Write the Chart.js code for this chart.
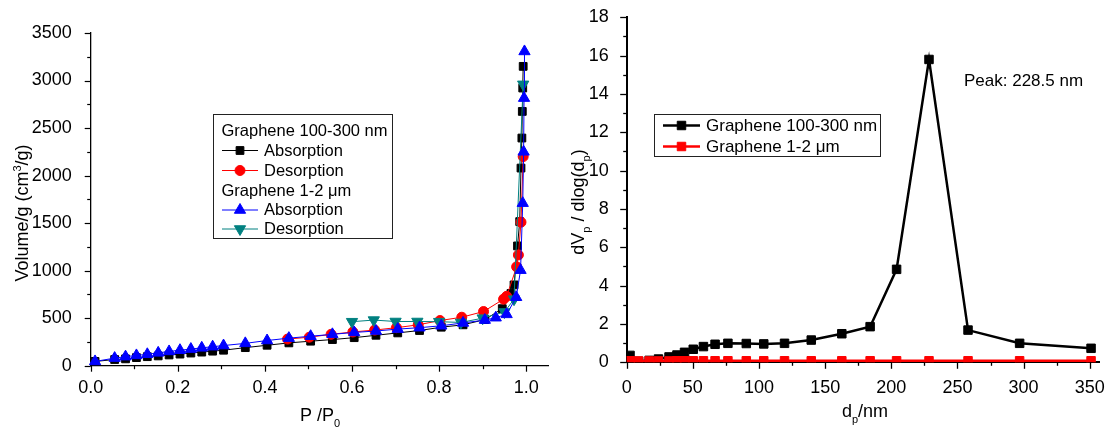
<!DOCTYPE html>
<html><head><meta charset="utf-8">
<script src="https://cdn.jsdelivr.net/npm/chart.js@4/dist/chart.umd.min.js"></script>
<style>
html,body{margin:0;padding:0;background:#fff;}
#wrap{position:relative;width:1106px;height:430px;overflow:hidden;}
canvas{position:absolute;top:0;}
</style></head>
<body><div id="wrap">
<canvas id="c1" width="560" height="430" style="left:0"></canvas>
<canvas id="c2" width="546" height="430" style="left:560px"></canvas>
</div>
<script>
// ---------- Left chart data: N2 isotherms ----------
const abs100X = [0.01,0.055,0.08,0.105,0.13,0.155,0.18,0.205,0.23,0.255,0.28,0.305,0.355,0.405,0.455,0.505,0.555,0.605,0.655,0.705,0.755,0.805,0.855,0.905,0.945,0.965,0.972,0.980,0.985,0.988,0.990,0.991,0.992,0.993];
const abs100Y = [45,65,72,85,95,103,113,122,133,143,153,163,190,215,240,258,275,295,320,345,370,405,430,485,600,760,850,1260,1516,2079,2395,2675,2921,3149];
const des100X = [0.993,0.988,0.982,0.978,0.955,0.948,0.902,0.852,0.802,0.752,0.702,0.652,0.602,0.552,0.502,0.452];
const des100Y = [2200,1510,1165,1040,730,700,570,510,475,430,400,375,355,330,300,280];
const abs12X = [0.01,0.055,0.08,0.105,0.13,0.155,0.18,0.205,0.23,0.255,0.28,0.305,0.355,0.405,0.455,0.505,0.555,0.605,0.655,0.705,0.755,0.805,0.855,0.905,0.93,0.955,0.977,0.987,0.992,0.994,0.995,0.996];
const abs12Y = [45,80,95,108,120,135,150,163,175,188,200,212,235,265,290,310,330,350,365,385,400,420,450,480,505,540,720,1005,1710,2250,2815,3306];
const des12X = [0.993,0.972,0.95,0.9,0.85,0.8,0.75,0.7,0.65,0.6];
const des12Y = [2960,700,565,500,455,463,465,465,480,463];
const leftXTicks = [0,0.2,0.4,0.6,0.8,1.0];
const leftXTickLabels = ['0.0','0.2','0.4','0.6','0.8','1.0'];
const leftXMinor = [0.1,0.3,0.5,0.7,0.9];
const leftYTicks = [0,500,1000,1500,2000,2500,3000,3500];
const leftYMinor = [250,750,1250,1750,2250,2750,3250];

// ---------- Right chart data: pore size distribution ----------
const poreX = [2.5,9,17,24,32,38,43.7,50.3,58,66.8,76.5,90.4,103.6,119.3,139.5,162.6,184,204,228.5,258,297,351];
const pore100Y = [0.36,0.05,0.1,0.17,0.28,0.38,0.52,0.68,0.82,0.94,0.99,0.98,0.96,0.99,1.16,1.49,1.86,4.85,15.8,1.68,0.99,0.73];
const pore12Y = [0.08,0.07,0.07,0.07,0.07,0.08,0.08,0.08,0.08,0.08,0.08,0.08,0.08,0.08,0.08,0.08,0.08,0.08,0.08,0.08,0.08,0.08];
const rightXTicks = [0,50,100,150,200,250,300,350];
const rightXTickLabels = ['0','50','100','150','200','250','300','350'];
const rightXMinor = [25,75,125,175,225,275,325];
const rightYTicks = [0,2,4,6,8,10,12,14,16,18];
const rightYMinor = [1,3,5,7,9,11,13,15,17];

const FONT = "'Liberation Sans', Arial, Helvetica, sans-serif";
const zip = (xs, ys) => xs.map((x, i) => ({x, y: ys[i]}));

function marker(ctx, style, x, y, r, color, rot) {
  ctx.save();
  ctx.fillStyle = color; ctx.strokeStyle = color; ctx.lineWidth = 1;
  ctx.beginPath();
  if (style === 'rect') { const s = r * Math.SQRT1_2; ctx.rect(x - s, y - s, 2 * s, 2 * s); }
  else if (style === 'circle') { ctx.arc(x, y, r, 0, Math.PI * 2); }
  else if (style === 'triangle') {
    let a = (rot || 0) * Math.PI / 180;
    ctx.moveTo(x + Math.sin(a) * r, y - Math.cos(a) * r);
    a += 2 * Math.PI / 3; ctx.lineTo(x + Math.sin(a) * r, y - Math.cos(a) * r);
    a += 2 * Math.PI / 3; ctx.lineTo(x + Math.sin(a) * r, y - Math.cos(a) * r);
    ctx.closePath();
  }
  ctx.fill(); ctx.stroke();
  ctx.restore();
}

function rich(ctx, parts, cx, cy, rot, size) {
  ctx.save();
  ctx.translate(cx, cy); ctx.rotate(rot);
  ctx.fillStyle = '#000'; ctx.textBaseline = 'alphabetic'; ctx.textAlign = 'left';
  const subSize = Math.round(size * 0.6);
  let w = 0;
  parts.forEach(p => { ctx.font = (p.sub || p.sup ? subSize : size) + 'px ' + FONT; p.w = ctx.measureText(p.t).width; w += p.w; });
  let x = -w / 2; const base = size * 0.36;
  parts.forEach(p => {
    ctx.font = (p.sub || p.sup ? subSize : size) + 'px ' + FONT;
    const dy = p.sub ? size * 0.3 : (p.sup ? -size * 0.42 : 0);
    ctx.fillText(p.t, x, base + dy);
    x += p.w;
  });
  ctx.restore();
}

function ticksPlugin(cfg) {
  return {
    id: 'decor',
    afterDraw(chart) {
      const ctx = chart.ctx, ca = chart.chartArea, sx = chart.scales.x, sy = chart.scales.y;
      ctx.save();
      ctx.strokeStyle = '#000'; ctx.lineWidth = cfg.tickWidth;
      const draw = (vals, len, horiz) => vals.forEach(v => {
        ctx.beginPath();
        if (horiz) { const p = Math.round(sx.getPixelForValue(v)) + 0.5; ctx.moveTo(p, ca.bottom); ctx.lineTo(p, ca.bottom + len); }
        else { const p = Math.round(sy.getPixelForValue(v)) + 0.5; ctx.moveTo(ca.left, p); ctx.lineTo(ca.left - len, p); }
        ctx.stroke();
      });
      draw(cfg.xMajor, cfg.majorLen, true); draw(cfg.xMinor, cfg.minorLen, true);
      draw(cfg.yMajor, cfg.majorLen, false); draw(cfg.yMinor, cfg.minorLen, false);
      ctx.restore();
      cfg.extra(ctx, chart);
    }
  };
}

// ---------- Left chart ----------
const leftSets = [
  {data: zip(abs100X, abs100Y), color: '#000000', style: 'rect', r: 5.5, rot: 0, order: 3},
  {data: zip(des100X, des100Y), color: '#ff0000', style: 'circle', r: 5, rot: 0, order: 2},
  {data: zip(des12X, des12Y), color: '#008080', style: 'triangle', r: 6.5, rot: 180, order: 1},
  {data: zip(abs12X, abs12Y), color: '#0000ff', style: 'triangle', r: 6.5, rot: 0, order: 0}
];
new Chart(document.getElementById('c1'), {
  type: 'line',
  data: {datasets: leftSets.map(s => ({
    data: s.data, borderColor: s.color, backgroundColor: s.color, borderWidth: 1,
    pointStyle: s.style, pointRadius: s.r, pointRotation: s.rot, pointBorderWidth: 1,
    pointBackgroundColor: s.color, pointBorderColor: s.color, tension: 0, order: s.order, clip: false
  }))},
  options: {
    responsive: false, animation: false, devicePixelRatio: 1,
    layout: {padding: {top: 33, right: 12, left: 0, bottom: 0}},
    plugins: {legend: {display: false}, tooltip: {enabled: false}},
    scales: {
      x: {type: 'linear', min: 0, max: 1.05,
        afterBuildTicks: s => { s.ticks = leftXTicks.map(v => ({value: v})); },
        ticks: {callback: (v, i) => leftXTickLabels[i], font: {size: 18, family: FONT}, color: '#000', padding: 4, maxRotation: 0, autoSkip: false},
        grid: {display: false}, border: {color: '#000', width: 1.3},
        afterFit: s => { s.height = 64.3; s.paddingLeft = 0; s.paddingRight = 0; }},
      y: {type: 'linear', min: 0, max: 3500,
        afterBuildTicks: s => { s.ticks = leftYTicks.map(v => ({value: v})); },
        ticks: {callback: (v, i) => String(leftYTicks[i]), font: {size: 18, family: FONT}, color: '#000', padding: 11, autoSkip: false},
        grid: {display: false}, border: {color: '#000', width: 1.3},
        afterFit: s => { s.width = 90.7; s.paddingTop = 0; s.paddingBottom = 0; }}
    }
  },
  plugins: [ticksPlugin({
    tickWidth: 1.2, majorLen: 6, minorLen: 3.5,
    xMajor: leftXTicks, xMinor: leftXMinor, yMajor: leftYTicks, yMinor: leftYMinor,
    extra(ctx) {
      rich(ctx, [{t: 'Volume/g (cm'}, {t: '3', sup: true}, {t: '/g)'}], 22, 213, -Math.PI / 2, 18);
      rich(ctx, [{t: 'P /P'}, {t: '0', sub: true}], 320, 415, 0, 18);
      // legend
      ctx.save();
      ctx.strokeStyle = '#222'; ctx.lineWidth = 1;
      ctx.strokeRect(213.5, 114.5, 179, 124);
      ctx.font = '16.5px ' + FONT; ctx.fillStyle = '#000'; ctx.textBaseline = 'middle';
      const rows = [
        {head: 'Graphene 100-300 nm', y: 130},
        {t: 'Absorption', s: leftSets[0], y: 150},
        {t: 'Desorption', s: leftSets[1], y: 170},
        {head: 'Graphene 1-2 \u03bcm', y: 190},
        {t: 'Absorption', s: leftSets[3], y: 209.5},
        {t: 'Desorption', s: leftSets[2], y: 228.5}
      ];
      rows.forEach(r => {
        if (r.head) { ctx.fillText(r.head, 221.5, r.y + 1); return; }
        ctx.strokeStyle = r.s.color; ctx.lineWidth = 1;
        ctx.beginPath(); ctx.moveTo(222, r.y + 0.5); ctx.lineTo(258, r.y + 0.5); ctx.stroke();
        marker(ctx, r.s.style, 240, r.y + 0.5, r.s.r, r.s.color, r.s.rot);
        ctx.fillStyle = '#000';
        ctx.fillText(r.t, 264, r.y + 1);
      });
      ctx.restore();
    }
  })]
});

// ---------- Right chart ----------
const rightSets = [
  {data: zip(poreX, pore12Y), color: '#ff0000', order: 0, label: 'Graphene 1-2 \u03bcm'},
  {data: zip(poreX, pore100Y), color: '#000000', order: 1, label: 'Graphene 100-300 nm'}
];
new Chart(document.getElementById('c2'), {
  type: 'line',
  data: {datasets: rightSets.map(s => ({
    data: s.data, borderColor: s.color, backgroundColor: s.color, borderWidth: 2.5,
    pointStyle: 'rect', pointRadius: 6, pointBorderWidth: 1,
    pointBackgroundColor: s.color, pointBorderColor: s.color, tension: 0, order: s.order, clip: 0
  }))},
  options: {
    responsive: false, animation: false, devicePixelRatio: 1,
    layout: {padding: {top: 17.3, right: 3, left: 0, bottom: 0}},
    plugins: {legend: {display: false}, tooltip: {enabled: false}},
    scales: {
      x: {type: 'linear', min: 0, max: 357,
        afterBuildTicks: s => { s.ticks = rightXTicks.map(v => ({value: v})); },
        ticks: {callback: (v, i) => rightXTickLabels[i], font: {size: 18, family: FONT}, color: '#000', padding: 7, maxRotation: 0, autoSkip: false},
        grid: {display: false}, border: {color: '#000', width: 2},
        afterFit: s => { s.height = 67.7; s.paddingLeft = 0; s.paddingRight = 0; }},
      y: {type: 'linear', min: 0, max: 18,
        afterBuildTicks: s => { s.ticks = rightYTicks.map(v => ({value: v})); },
        ticks: {callback: (v, i) => String(rightYTicks[i]), font: {size: 18, family: FONT}, color: '#000', padding: 10, autoSkip: false},
        grid: {display: false}, border: {color: '#000', width: 2},
        afterFit: s => { s.width = 66.7; s.paddingTop = 0; s.paddingBottom = 0; }}
    }
  },
  plugins: [ticksPlugin({
    tickWidth: 1.3, majorLen: 6.5, minorLen: 3.5,
    xMajor: rightXTicks, xMinor: rightXMinor, yMajor: rightYTicks, yMinor: rightYMinor,
    extra(ctx) {
      rich(ctx, [{t: 'dV'}, {t: 'p', sub: true}, {t: ' / dlog(d'}, {t: 'p', sub: true}, {t: ')'}], 18, 202, -Math.PI / 2, 18);
      rich(ctx, [{t: 'd'}, {t: 'p', sub: true}, {t: '/nm'}], 305, 411, 0, 18);
      ctx.save();
      ctx.font = '17px ' + FONT; ctx.fillStyle = '#000'; ctx.textBaseline = 'alphabetic';
      ctx.fillText('Peak: 228.5 nm', 404, 86);
      // legend
      ctx.strokeStyle = '#222'; ctx.lineWidth = 1;
      ctx.strokeRect(94.5, 114.5, 226, 42);
      ctx.textBaseline = 'middle';
      [{s: rightSets[1], y: 125.5}, {s: rightSets[0], y: 146.5}].forEach(r => {
        ctx.strokeStyle = r.s.color; ctx.lineWidth = 2.5;
        ctx.beginPath(); ctx.moveTo(103, r.y); ctx.lineTo(140, r.y); ctx.stroke();
        marker(ctx, 'rect', 121.5, r.y, 6, r.s.color, 0);
        ctx.fillStyle = '#000';
        ctx.fillText(r.s.label, 146, r.y + 1);
      });
      ctx.restore();
    }
  })]
});
</script>
</body></html>
